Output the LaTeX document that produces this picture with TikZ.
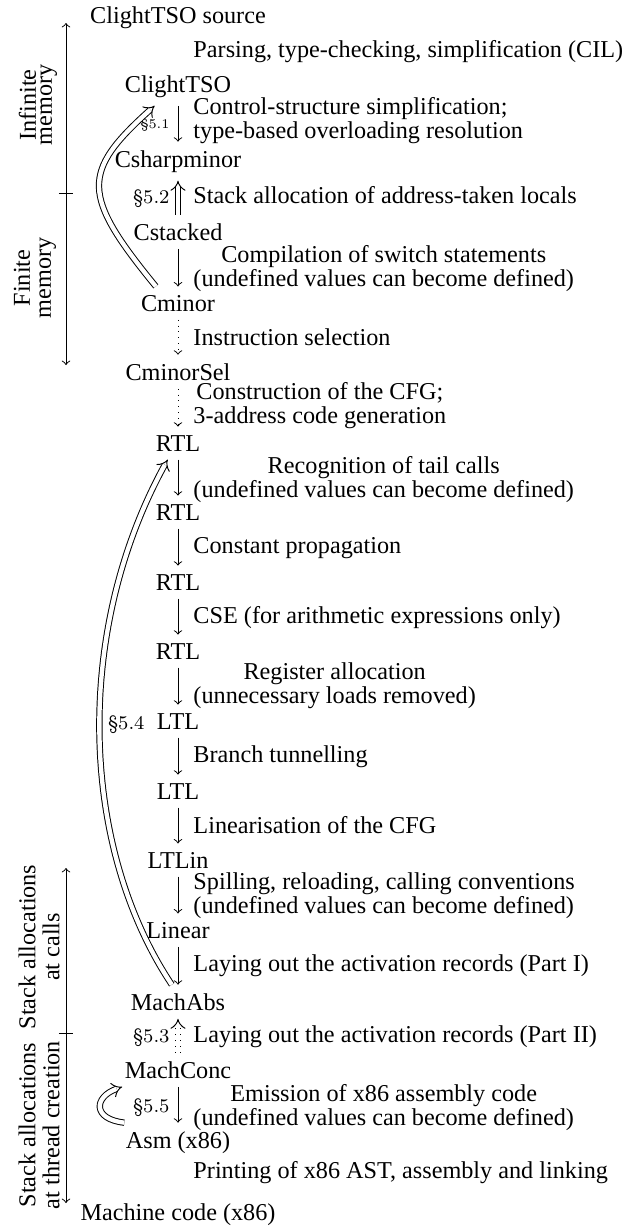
\documentclass[tikz,border=0pt]{standalone}
\usepackage{fontspec}
\setmainfont{Liberation Serif}
\usetikzlibrary{arrows,calc}

\begin{document}
\begin{tikzpicture}[x=0.413pt,y=-0.413pt,
  every node/.style={font=\fontsize{10}{9.9}\selectfont},
  lang/.style={anchor=base},
  desc/.style={anchor=base west,inner sep=0pt},
  sec/.style={anchor=base east,inner sep=0pt,font=\fontfamily{lmr}\fontsize{8}{9}\selectfont},
  pass/.style={->},
  sel/.style={->,dotted},
  trans/.style={double,double distance=1.8pt,-implies},
  side/.style={rotate=90,align=center}]
\useasboundingbox (0,0) rectangle (629,1230);
\node [lang] (src) at (178,23) {ClightTSO source};
\node [lang] (clight) at (178,92) {ClightTSO};
\node [lang] (csharp) at (178,167) {Csharpminor};
\node [lang] (cstacked) at (178,240) {Cstacked};
\node [lang] (cminor) at (178,311) {Cminor};
\node [lang] (cminorsel) at (178,380) {CminorSel};
\node [lang] (rtla) at (178,451) {RTL};
\node [lang] (rtlb) at (178,520) {RTL};
\node [lang] (rtlc) at (178,590) {RTL};
\node [lang] (rtld) at (178,659) {RTL};
\node [lang] (ltla) at (178,729) {LTL};
\node [lang] (ltlb) at (178,799) {LTL};
\node [lang] (ltlin) at (178,868) {LTLin};
\node [lang] (linear) at (178,938) {Linear};
\node [lang] (machabs) at (178,1010) {MachAbs};
\node [lang] (machconc) at (178,1078) {MachConc};
\node [lang] (asm) at (178,1148) {Asm (x86)};
\node [lang] (mcode) at (178,1220) {Machine code (x86)};
\node [desc] (parsing) at (193,57) {Parsing, type-checking, simplification (CIL)};
\node [desc,align=left] (simpl) at (193,138) {Control-structure simplification;\\type-based overloading resolution};
\node [desc] (stackalloc) at (193,203) {Stack allocation of address-taken locals};
\node [desc,align=center] (switch) at (193,286) {Compilation of switch statements\\(undefined values can become defined)};
\node [desc] (isel) at (193,345) {Instruction selection};
\node [desc,align=center] (cfg) at (193,423) {Construction of the CFG;\\3-address code generation};
\node [desc,align=center] (tailcall) at (193,497) {Recognition of tail calls\\(undefined values can become defined)};
\node [desc] (constprop) at (193,553) {Constant propagation};
\node [desc] (cse) at (193,623) {CSE (for arithmetic expressions only)};
\node [desc,align=center] (regalloc) at (193,703) {Register allocation\\(unnecessary loads removed)};
\node [desc] (tunnel) at (193,762) {Branch tunnelling};
\node [desc] (linearize) at (193,833) {Linearisation of the CFG};
\node [desc,align=left] (spill) at (193,913) {Spilling, reloading, calling conventions\\(undefined values can become defined)};
\node [desc] (stackinga) at (193,971) {Laying out the activation records (Part I)};
\node [desc] (stackingb) at (193,1042) {Laying out the activation records (Part II)};
\node [desc,align=center] (asmgen) at (193,1125) {Emission of x86 assembly code\\(undefined values can become defined)};
\node [desc] (printing) at (193,1178) {Printing of x86 AST, assembly and linking};
\node [sec,font=\fontfamily{lmr}\fontsize{5.5}{6}\selectfont] (seca) at (170,128) {\S5.1};
\node [sec] (secb) at (170,203) {\S5.2};
\node [sec] (secc) at (170,1042) {\S5.3};
\node [sec] (secd) at (145,729) {\S5.4};
\node [sec] (sece) at (170,1112) {\S5.5};
\draw [pass] (clight) -- (csharp);
\draw [trans] (cstacked) -- (csharp);
\draw [pass] (cstacked) -- (cminor);
\draw [sel] (cminor) -- (cminorsel);
\draw [sel] (cminorsel) -- (rtla);
\draw [pass] (rtla) -- (rtlb);
\draw [pass] (rtlb) -- (rtlc);
\draw [pass] (rtlc) -- (rtld);
\draw [pass] (rtld) -- (ltla);
\draw [pass] (ltla) -- (ltlb);
\draw [pass] (ltlb) -- (ltlin);
\draw [pass] (ltlin) -- (linear);
\draw [pass] (linear) -- (machabs);
\draw [trans,dotted] (machconc) -- (machabs);
\draw [pass] (machconc) -- (asm);
\draw [trans] (cminor.143) .. controls (81,195) and (81,172) .. (clight.220);
\draw [trans] (machabs.110) .. controls (80,847) and (73,632) .. (rtla.238);
\draw [trans] (asm.160) .. controls (92,1119) and (94,1097) .. (machconc.197);
\coordinate (inftop) at (66,23);
\coordinate (memsplit) at (66,193);
\coordinate (finbot) at (66,365);
\coordinate (calltop) at (66,868);
\coordinate (stksplit) at (66,1033);
\coordinate (thrbot) at (66,1203);
\draw [->] (memsplit) -- (inftop);
\draw [->] (memsplit) -- (finbot);
\draw ([xshift=-2.9pt]memsplit) -- ([xshift=2.9pt]memsplit);
\draw [->] (stksplit) -- (calltop);
\draw [->] (stksplit) -- (thrbot);
\draw ([xshift=-2.9pt]stksplit) -- ([xshift=2.9pt]stksplit);
\node [side] (infmem) at (38,105) {Infinite\\[-3.3pt]memory};
\node [side] (finmem) at (35,278) {Finite\\[-1.2pt]memory};
\node [side] (callstk) at (39,947) {Stack allocations\\at calls};
\node [side] (thrstk) at (39,1125) {Stack allocations\\at thread creation};
\end{tikzpicture}
\end{document}
